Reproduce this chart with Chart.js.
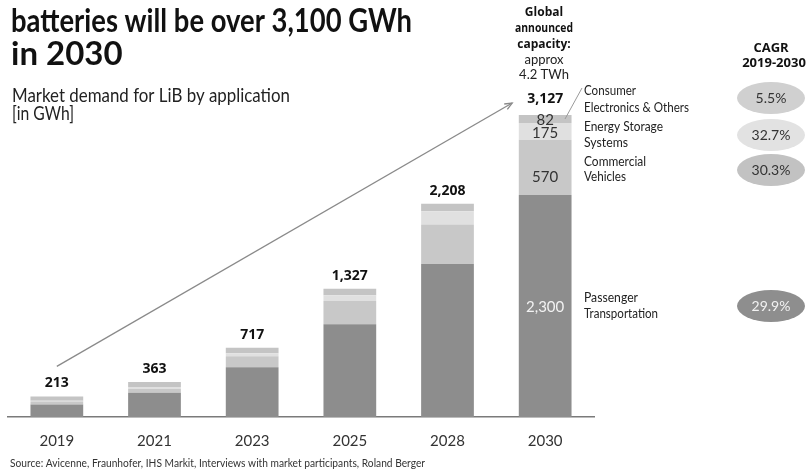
<!DOCTYPE html>
<html>
<head>
<meta charset="utf-8">
<script src="https://cdn.jsdelivr.net/npm/chart.js@4"></script>
<style>
  body { margin: 0; background: #fff; }
  canvas { display: block; }
</style>
</head>
<body>
<canvas id="chart" width="806" height="472"></canvas>
<script>
// LiB demand by application, GWh
const years = ['2019', '2021', '2023', '2025', '2028', '2030'];
const passenger = [129, 252, 515, 960, 1585, 2300];
const commercial = [31, 37, 115, 240, 408, 570];
const storage = [8, 22, 30, 60, 138, 175];
const consumer = [45, 52, 57, 67, 77, 82];
const totals = [213, 363, 717, 1327, 2208, 3127];

const seriesNames = ['Passenger Transportation', 'Commercial Vehicles', 'Energy Storage Systems', 'Consumer Electronics & Others'];
const seriesColors = ['#8d8d8d', '#c8c8c8', '#e0e0e0', '#c4c4c4'];
const cagr = ['29.9%', '30.3%', '32.7%', '5.5%'];

const FONT = '"Open Sans", sans-serif';
const LFONT = 'Lato, sans-serif';

function txt(ctx, s, x, y, font, color, align, maxW) {
    ctx.font = font;
    ctx.fillStyle = color;
    ctx.textAlign = align || 'left';
    ctx.textBaseline = 'alphabetic';
    if (maxW) ctx.fillText(s, x, y, maxW); else ctx.fillText(s, x, y);
}

const extras = {
    id: 'extras',
    afterDraw(chart) {
        const ctx = chart.ctx;
        const x = chart.scales.x, y = chart.scales.y;
        ctx.save();

        // headings
        txt(ctx, 'batteries will be over 3,100 GWh', 11, 32, 'bold 33px ' + LFONT, '#111', 'left', 401);
        txt(ctx, 'in 2030', 11, 65, 'bold 33px ' + LFONT, '#111', 'left');
        txt(ctx, 'Market demand for LiB by application', 12, 102, '20px ' + LFONT, '#222', 'left', 278);
        txt(ctx, '[in GWh]', 12, 120, '20px ' + LFONT, '#222', 'left', 62);

        // totals above bars
        totals.forEach((t, i) => {
            const yy = i === totals.length - 1 ? y.getPixelForValue(t) - 12 : y.getPixelForValue(t) - 9;
            txt(ctx, t.toLocaleString('en-US'), x.getPixelForValue(i), yy, 'bold 14px ' + FONT, '#111', 'center');
        });

        // labels inside 2030 bar
        const last = years.length - 1, cx = x.getPixelForValue(last);
        const segs = [passenger[last], commercial[last], storage[last], consumer[last]];
        let base = 0;
        const mids = segs.map(v => { const m = y.getPixelForValue(base + v / 2); base += v; return m; });
        txt(ctx, segs[0].toLocaleString('en-US'), cx, mids[0] + 6, '15px ' + LFONT, '#f2f2f2', 'center');
        txt(ctx, String(segs[1]), cx, mids[1] + 15, '15px ' + LFONT, '#333', 'center');
        txt(ctx, String(segs[2]), cx, mids[2] + 7, '15px ' + LFONT, '#333', 'center');
        txt(ctx, String(segs[3]), cx, mids[3] + 6, '15px ' + LFONT, '#333', 'center');

        // trend arrow
        const x0 = x.getPixelForValue(0), y0 = y.getPixelForValue(totals[0]) - 30;
        const x1 = cx - 33, y1 = y.getPixelForValue(totals[last]) - 12;
        ctx.strokeStyle = '#8a8a8a';
        ctx.lineWidth = 1.3;
        ctx.beginPath(); ctx.moveTo(x0, y0); ctx.lineTo(x1, y1); ctx.stroke();
        const a = Math.atan2(y1 - y0, x1 - x0);
        ctx.beginPath();
        ctx.moveTo(x1 - 8 * Math.cos(a - 0.4), y1 - 8 * Math.sin(a - 0.4));
        ctx.lineTo(x1, y1);
        ctx.lineTo(x1 - 8 * Math.cos(a + 0.4), y1 - 8 * Math.sin(a + 0.4));
        ctx.stroke();

        // global capacity note
        const gx = 544;
        txt(ctx, 'Global', gx, 16, 'bold 12px ' + FONT, '#111', 'center');
        txt(ctx, 'announced', gx, 32, 'bold 12px ' + FONT, '#111', 'center', 58);
        txt(ctx, 'capacity:', gx, 48, 'bold 12px ' + FONT, '#111', 'center');
        txt(ctx, 'approx', gx, 64, '13px ' + LFONT, '#222', 'center');
        txt(ctx, '4.2 TWh', gx, 79, '13px ' + LFONT, '#222', 'center');

        // series labels (widths fitted to the reference)
        const lx = 584, lf = '13.5px ' + LFONT;
        [
            ['Consumer', 95, 52], ['Electronics & Others', 112, 105],
            ['Energy Storage', 131, 79], ['Systems', 147, 44],
            ['Commercial', 166, 62], ['Vehicles', 181, 42],
            ['Passenger', 302, 54], ['Transportation', 318, 74]
        ].forEach(l => txt(ctx, l[0], lx, l[1], lf, '#222', 'left', l[2]));
        ctx.strokeStyle = '#9a9a9a';
        ctx.lineWidth = 1;
        ctx.beginPath(); ctx.moveTo(565, 119); ctx.lineTo(582, 88); ctx.stroke();

        // CAGR column
        txt(ctx, 'CAGR', 771, 52, 'bold 13px ' + FONT, '#111', 'center');
        txt(ctx, '2019-2030', 774, 67, 'bold 13px ' + FONT, '#111', 'center', 64);
        const ell = [
            { cy: 306, fill: '#8e8e8e', color: '#f2f2f2' },
            { cy: 170, fill: '#c2c2c2', color: '#333' },
            { cy: 135, fill: '#e2e2e2', color: '#333' },
            { cy: 98, fill: '#d0d0d0', color: '#333' }
        ];
        ell.forEach((e, i) => {
            ctx.fillStyle = e.fill;
            ctx.beginPath(); ctx.ellipse(771, e.cy, 34, 16, 0, 0, Math.PI * 2); ctx.fill();
            txt(ctx, cagr[i], 771, e.cy + 5, '14px ' + LFONT, e.color, 'center');
        });

        // source
        txt(ctx, 'Source: Avicenne, Fraunhofer, IHS Markit, Interviews with market participants, Roland Berger', 10, 467, '11.5px ' + LFONT, '#333', 'left', 415);
        ctx.restore();
    }
};

const datasets = [passenger, commercial, storage, consumer].map((d, i) => ({
    label: seriesNames[i],
    data: d,
    backgroundColor: seriesColors[i],
    borderWidth: 0,
    barPercentage: 0.54,
    categoryPercentage: 1
}));

new Chart(document.getElementById('chart'), {
    type: 'bar',
    data: { labels: years, datasets: datasets },
    options: {
        responsive: false,
        animation: false,
        devicePixelRatio: 1,
        layout: { padding: { left: 8, right: 212, top: 79, bottom: 15 } },
        plugins: { legend: { display: false }, tooltip: { enabled: false } },
        scales: {
            x: {
                stacked: true,
                grid: { display: false },
                border: { display: true, color: '#7a7a7a', width: 1.5 },
                ticks: { color: '#333', font: { family: 'Lato', size: 15 }, padding: 7 },
                afterFit(scale) { scale.height = 40; }
            },
            y: {
                stacked: true,
                display: false,
                min: 0,
                max: 3500
            }
        }
    },
    plugins: [extras]
});
</script>
</body>
</html>
